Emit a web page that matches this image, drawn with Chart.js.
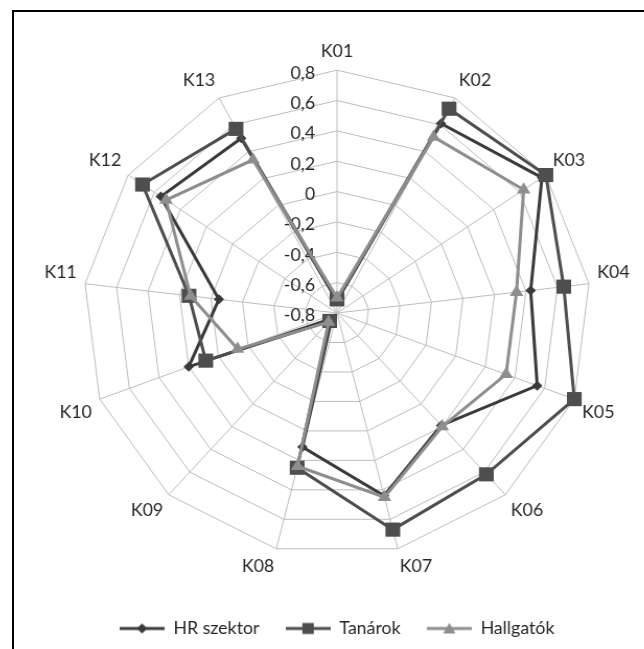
<!DOCTYPE html>
<html>
<head>
<meta charset="utf-8">
<script src="https://cdn.jsdelivr.net/npm/chart.js@4.4.0/dist/chart.umd.min.js"></script>
<style>
  html, body { margin: 0; padding: 0; background: #fff; width: 644px; height: 649px; overflow: hidden; }
  #frame { position: absolute; left: 12px; top: 10px; width: 700px; height: 700px; border-top: 2px solid #000; border-left: 2px solid #000; }
  #wrap { position: absolute; left: 37px; top: 0; width: 600px; height: 647px; transform: scaleX(1.045); transform-origin: 50% 50%; }
</style>
</head>
<body>
<div id="frame"></div>
<div id="wrap"><canvas id="chart" width="600" height="647"></canvas></div>
<script>
const categories = ['K01', 'K02', 'K03', 'K04', 'K05', 'K06', 'K07', 'K08', 'K09', 'K10', 'K11', 'K12', 'K13'];
const seriesNames = ['HR szektor', 'Tanárok', 'Hallgatók'];
const hrSzektor = [-0.72, 0.61, 0.77, 0.43, 0.55, 0.19, 0.44, 0.11, -0.75, 0.20, -0.05, 0.55, 0.50];
const tanarok   = [-0.71, 0.72, 0.80, 0.64, 0.80, 0.62, 0.67, 0.25, -0.73, 0.085, 0.14, 0.69, 0.57];
const hallgatok = [-0.70, 0.51, 0.63, 0.34, 0.34, 0.20, 0.45, 0.24, -0.72, -0.13, 0.13, 0.51, 0.34];
const tickValues = [-0.8, -0.6, -0.4, -0.2, 0, 0.2, 0.4, 0.6, 0.8];
const tickLabels = ['-0,8', '-0,6', '-0,4', '-0,2', '0', '0,2', '0,4', '0,6', '0,8'];

const FONT = 'Lato';
const TEXT = '#262626';
const colors = ['#3a3a3a', '#4e4e4e', '#8e8e8e'];
const styles = ['rectRot', 'rect', 'triangle'];
const radii = [5, 10, 7.5];

// small line+marker images for the legend
function legendMarker(color, style) {
  const c = document.createElement('canvas');
  c.width = 43; c.height = 16;
  const ctx = c.getContext('2d');
  ctx.strokeStyle = color;
  ctx.fillStyle = color;
  ctx.lineWidth = 3;
  ctx.beginPath(); ctx.moveTo(0, 8); ctx.lineTo(43, 8); ctx.stroke();
  ctx.beginPath();
  if (style === 'rectRot') {
    ctx.moveTo(21.5, 3); ctx.lineTo(26.5, 8); ctx.lineTo(21.5, 13); ctx.lineTo(16.5, 8);
  } else if (style === 'rect') {
    ctx.rect(16, 2.5, 11, 11);
  } else {
    ctx.moveTo(21.5, 2.5); ctx.lineTo(27.5, 13); ctx.lineTo(15.5, 13);
  }
  ctx.closePath();
  ctx.fill();
  return c;
}
const markers = colors.map((c, i) => legendMarker(c, styles[i]));

// value labels left of the K01 axis, like the original
const tickLabelPlugin = {
  id: 'tickLabels',
  beforeDatasetsDraw(chart) {
    const s = chart.scales.r;
    const ctx = chart.ctx;
    ctx.save();
    ctx.font = '17px ' + FONT;
    ctx.fillStyle = TEXT;
    ctx.textAlign = 'right';
    ctx.textBaseline = 'middle';
    tickValues.forEach((v, i) => {
      const d = s.getDistanceFromCenterForValue(v);
      ctx.fillText(tickLabels[i], s.xCenter - 21, s.yCenter - d + 3);
    });
    ctx.restore();
  }
};

const seriesData = [hrSzektor, tanarok, hallgatok];

new Chart(document.getElementById('chart'), {
  type: 'radar',
  data: {
    labels: categories,
    datasets: seriesData.map((d, i) => ({
      label: seriesNames[i],
      data: d,
      borderColor: colors[i],
      backgroundColor: colors[i],
      borderWidth: 3,
      fill: false,
      pointStyle: styles[i],
      pointRadius: radii[i],
      pointBackgroundColor: colors[i],
      pointBorderColor: colors[i],
      pointBorderWidth: 0,
      order: 3 - i
    }))
  },
  options: {
    responsive: false,
    animation: false,
    devicePixelRatio: 1,
    layout: { padding: { top: 24, left: 20, right: 20, bottom: 0 } },
    scales: {
      r: {
        min: -0.8,
        max: 0.8,
        ticks: { stepSize: 0.2, display: false },
        grid: { color: '#bdbdbd', lineWidth: 1 },
        angleLines: { color: '#bdbdbd', lineWidth: 1 },
        pointLabels: { font: { family: FONT, size: 17 }, color: TEXT, padding: 8 }
      }
    },
    plugins: {
      tooltip: { enabled: false },
      legend: {
        position: 'bottom',
        labels: {
          usePointStyle: true,
          pointStyleWidth: 43,
          padding: 25,
          color: TEXT,
          font: { family: FONT, size: 17 },
          sort: (a, b) => a.datasetIndex - b.datasetIndex,
          generateLabels(chart) {
            const items = Chart.defaults.plugins.legend.labels.generateLabels(chart);
            items.forEach(it => { it.pointStyle = markers[it.datasetIndex]; });
            return items;
          }
        }
      }
    }
  },
  plugins: [tickLabelPlugin]
});
</script>
</body>
</html>
